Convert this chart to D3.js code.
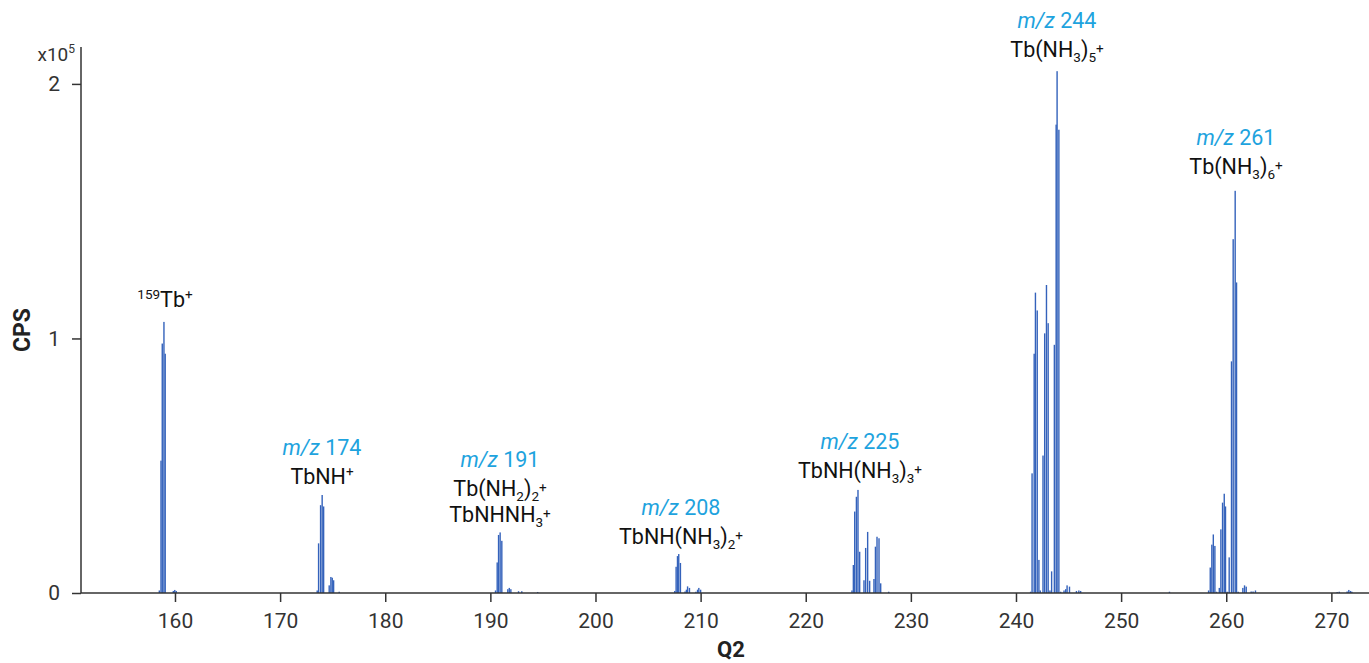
<!DOCTYPE html>
<html><head><meta charset="utf-8">
<script src="https://cdn.jsdelivr.net/npm/d3@7"></script>
<style>
html,body{margin:0;padding:0;background:#fff;}
text{font-family:Roboto,"Open Sans",sans-serif;}
</style></head>
<body><svg id="chart" width="1369" height="663"></svg>
<script>
// ---- data (m/z, intensity in 1e5 CPS) ----
const tbMz   = [158.51,158.67,158.79,158.95,159.07,159.84,159.98,160.12];
const tbCps  = [0.01,0.52,0.98,1.065,0.94,0.008,0.012,0.008];
const tbnhMz  = [173.53,173.66,173.85,174.00,174.14,174.67,174.83,174.96,175.09,175.62];
const tbnhCps = [0.01,0.195,0.345,0.385,0.34,0.03,0.063,0.06,0.05,0.005];
const m191Mz  = [190.49,190.65,190.78,190.93,191.09,191.66,191.80,191.95,192.68,192.99,194.5];
const m191Cps = [0.01,0.12,0.228,0.238,0.205,0.015,0.02,0.015,0.007,0.007,0.004];
const m208Mz  = [207.54,207.67,207.80,207.92,208.08,208.52,208.65,208.76,208.94,209.55,209.71,209.83,210.00];
const m208Cps = [0.008,0.103,0.145,0.153,0.118,0.006,0.013,0.026,0.02,0.005,0.013,0.02,0.013];
const m225Mz  = [224.40,224.53,224.66,224.82,224.97,225.13,225.54,225.70,225.89,226.08,226.49,226.63,226.78,226.97,227.13,227.89];
const m225Cps = [0.01,0.11,0.32,0.378,0.405,0.162,0.05,0.177,0.24,0.048,0.055,0.182,0.221,0.215,0.038,0.005];
const m244Mz  = [241.39,241.53,241.73,241.85,242.02,242.18,242.31,242.57,242.73,242.90,243.06,243.23,243.39,243.65,243.82,243.91,244.08,244.25,244.57,244.73,244.86,245.09,245.75,245.98,246.15,254.6];
const m244Cps = [0.005,0.47,0.94,1.18,1.11,0.13,0.01,0.54,1.02,1.21,1.06,0.01,0.085,0.975,1.84,2.05,1.82,0.005,0.01,0.015,0.03,0.025,0.008,0.01,0.008,0.005];
const m261Mz  = [258.32,258.48,258.63,258.77,258.92,259.08,259.34,259.49,259.65,259.81,259.93,260.09,260.28,260.50,260.66,260.85,260.98,261.14,261.58,261.74,261.90,262.37,262.55,262.78];
const m261Cps = [0.01,0.1,0.19,0.23,0.185,0.005,0.02,0.25,0.355,0.39,0.34,0.005,0.14,0.91,1.39,1.58,1.22,0.005,0.02,0.03,0.025,0.006,0.006,0.01];
const tailMz  = [270.55,270.75,271.50,271.66,271.82,271.95];
const tailCps = [0.004,0.005,0.006,0.012,0.008,0.005];

const xTicks = [160,170,180,190,200,210,220,230,240,250,260,270];
const yTicks = [0,1,2];

const labels = [
  {lines:[[{t:"159",s:"sup"},{t:"Tb"},{t:"+",s:"sup"}]], mzText:null},
  {lines:[[{t:"TbNH"},{t:"+",s:"sup"}]], mzText:"174"},
  {lines:[[{t:"Tb(NH"},{t:"2",s:"sub"},{t:")"},{t:"2",s:"sub"},{t:"+",s:"supsub"}],[{t:"TbNHNH"},{t:"3",s:"sub"},{t:"+",s:"supsub"}]], mzText:"191"},
  {lines:[[{t:"TbNH(NH"},{t:"3",s:"sub"},{t:")"},{t:"2",s:"sub"},{t:"+",s:"supsub"}]], mzText:"208"},
  {lines:[[{t:"TbNH(NH"},{t:"3",s:"sub"},{t:")"},{t:"3",s:"sub"},{t:"+",s:"supsub"}]], mzText:"225"},
  {lines:[[{t:"Tb(NH"},{t:"3",s:"sub"},{t:")"},{t:"5",s:"sub"},{t:"+",s:"supsub"}]], mzText:"244"},
  {lines:[[{t:"Tb(NH"},{t:"3",s:"sub"},{t:")"},{t:"6",s:"sub"},{t:"+",s:"supsub"}]], mzText:"261"}
];
// label anchor positions (pixel centre x, baseline y of first line)
const labelPos = [[165,307],[322,455],[500,467],[681,515],[860,449],[1057,28],[1236,145]];

// ---- chart ----
const svg = d3.select("#chart");
const x = d3.scaleLinear().domain([151.06,273.58]).range([81,1369]);
const y = d3.scaleLinear().domain([0,2.145]).range([593,47]);

const all = [];
[[tbMz,tbCps],[tbnhMz,tbnhCps],[m191Mz,m191Cps],[m208Mz,m208Cps],[m225Mz,m225Cps],[m244Mz,m244Cps],[m261Mz,m261Cps],[tailMz,tailCps]]
  .forEach(([m,c])=>m.forEach((d,i)=>all.push({mz:d,v:c[i]})));

svg.append("g").selectAll("rect").data(all).join("rect")
  .attr("x",d=>x(d.mz)-0.7).attr("width",1.4)
  .attr("y",d=>y(d.v)).attr("height",d=>y(0)-y(d.v))
  .attr("fill","#3462bb");

// axes
const xAxis = svg.append("g").attr("transform","translate(0,593)")
  .call(d3.axisBottom(x).tickValues(xTicks).tickSize(9).tickPadding(11).tickSizeOuter(0));
const yAxis = svg.append("g").attr("transform","translate(81,0)")
  .call(d3.axisLeft(y).tickValues(yTicks).tickFormat(d3.format("d")).tickSize(9).tickPadding(12).tickSizeOuter(0));
[xAxis,yAxis].forEach(g=>{
  g.select(".domain").attr("stroke","#333").attr("stroke-width",1.5);
  g.selectAll(".tick line").attr("stroke","#333").attr("stroke-width",1.5);
  g.selectAll(".tick text").attr("font-size",21).attr("fill","#333").attr("font-family","Roboto");
});
xAxis.select(".domain").attr("d","M81,0H1369");
yAxis.select(".domain").attr("d","M0,47V593");

// exponent
const ex = svg.append("text").attr("x",75).attr("y",61).attr("text-anchor","end").attr("font-size",19).attr("fill","#333");
ex.append("tspan").text("x10");
ex.append("tspan").text("5").attr("font-size",12).attr("dy",-8);

// axis titles
svg.append("text").attr("transform","translate(30,330) rotate(-90)").attr("text-anchor","middle")
  .attr("font-size",23).attr("font-weight","bold").attr("fill","#222").text("CPS");
svg.append("text").attr("x",731).attr("y",657).attr("text-anchor","middle")
  .attr("font-size",22).attr("font-weight","bold").attr("fill","#222").text("Q2");

// annotations
labels.forEach((L,i)=>{
  const [cx,by] = labelPos[i];
  let yy = by;
  if(L.mzText){
    const t = svg.append("text").attr("x",cx).attr("y",yy).attr("text-anchor","middle")
      .attr("font-size",21.5).attr("fill","#1ea3de");
    t.append("tspan").attr("font-style","italic").text("m/z");
    t.append("tspan").text(" "+L.mzText);
    yy += 29;
  }
  L.lines.forEach(line=>{
    const t = svg.append("text").attr("x",cx).attr("y",yy).attr("text-anchor","middle")
      .attr("font-size",21.5).attr("fill","#111");
    let cur = 0;
    line.forEach(p=>{
      const sp = t.append("tspan").text(p.t);
      let target = 0;
      if(p.s==="sub"){ sp.attr("font-size",13.5); target = 5; }
      else if(p.s==="sup"){ sp.attr("font-size",13.5); target = -8; }
      else if(p.s==="supsub"){ sp.attr("font-size",13.5); target = -4; }
      if(target!==cur){ sp.attr("dy",target-cur); cur = target; }
    });
    yy += 26;
  });
});
</script></body></html>
